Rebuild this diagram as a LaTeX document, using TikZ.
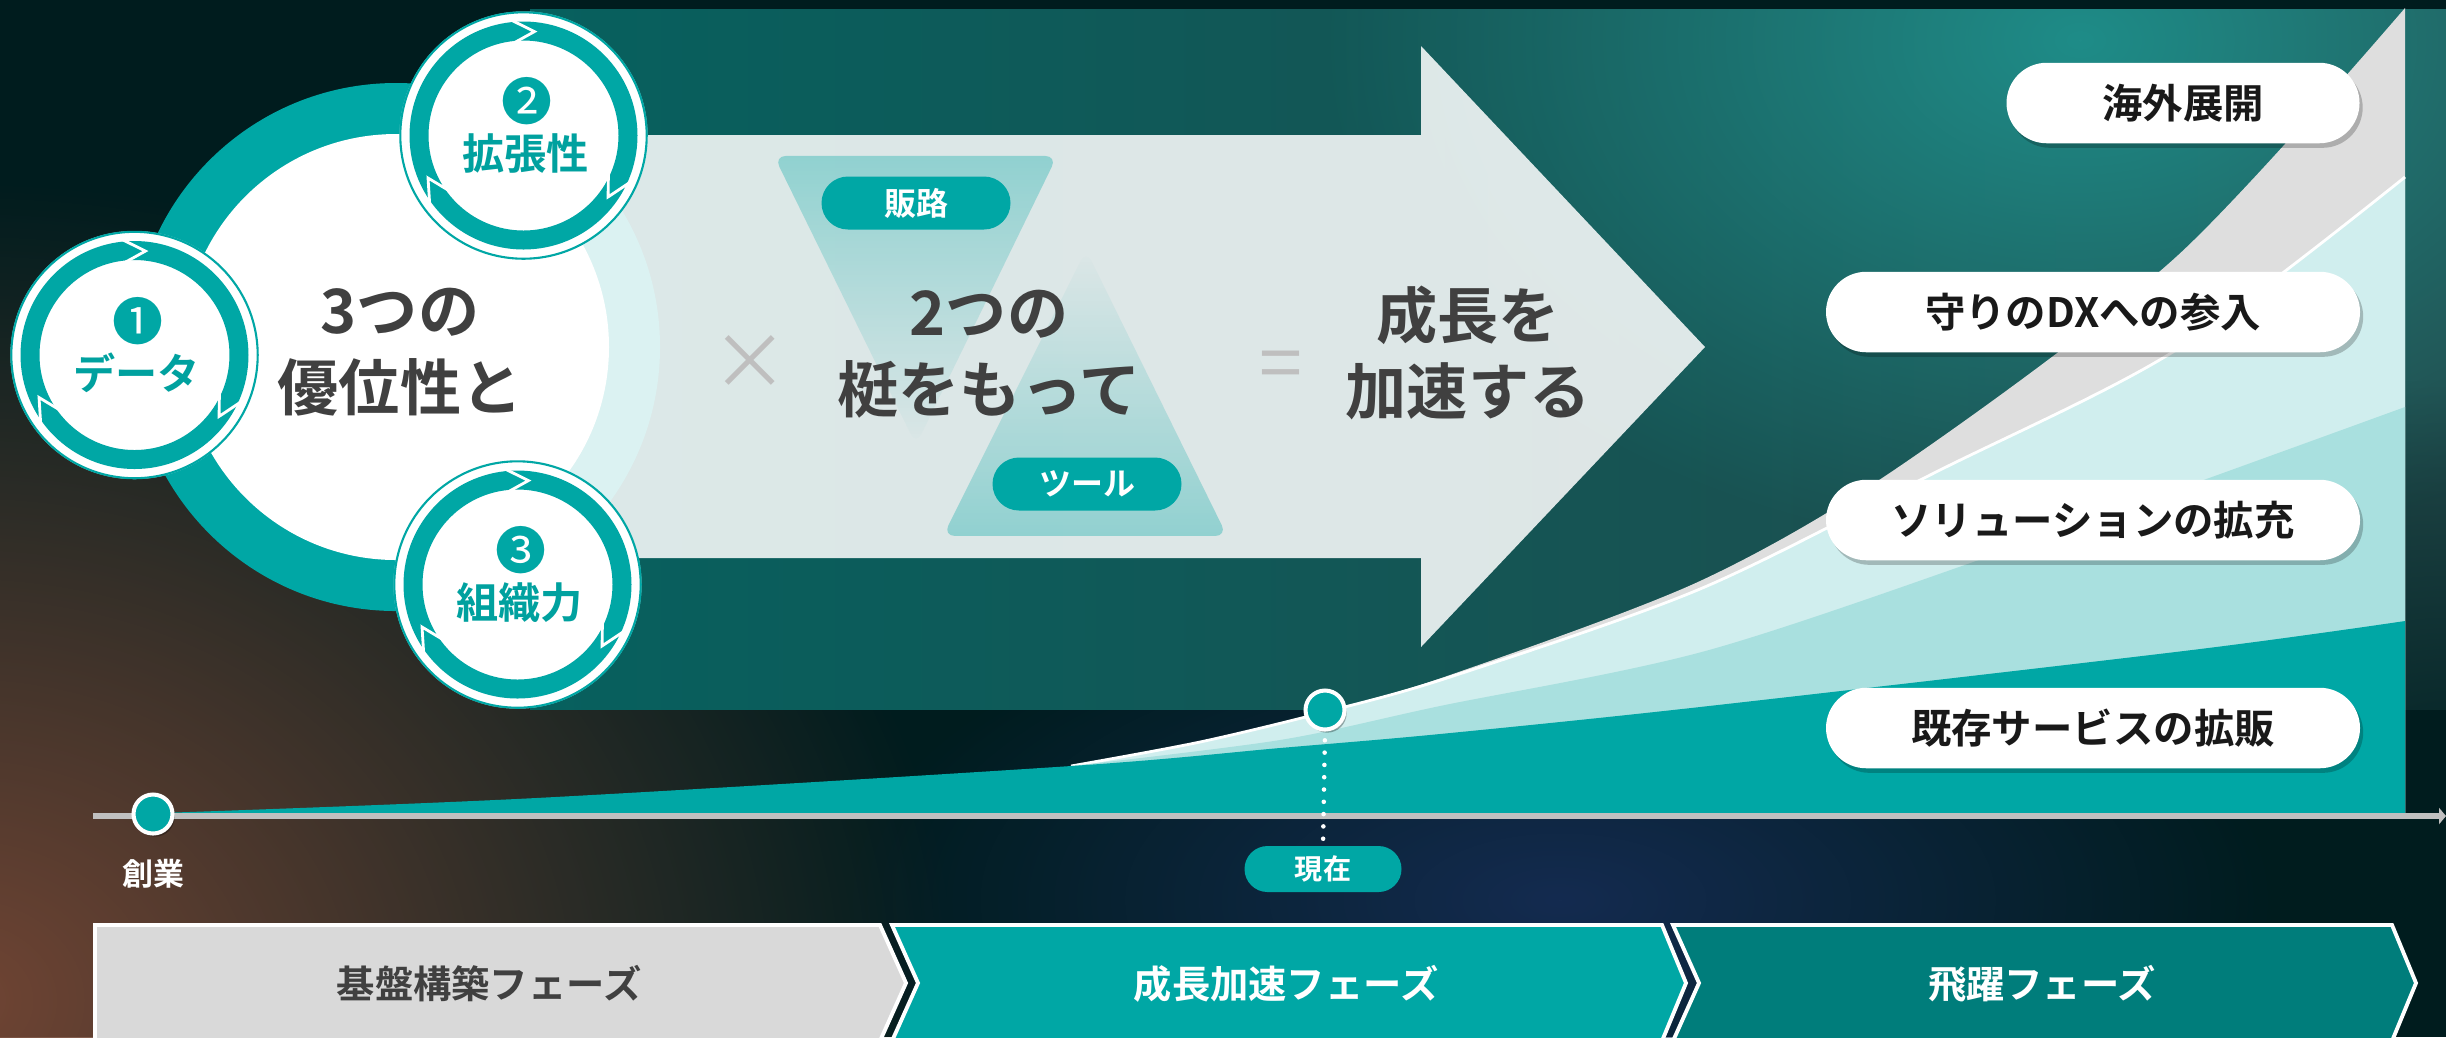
\documentclass[tikz,border=0pt]{standalone}
\usepackage{fontspec}
\setmainfont{Noto Sans CJK JP}[BoldFont={Noto Sans CJK JP Bold}]
\usetikzlibrary{fadings,shadows,shapes.misc,arrows.meta,calc}

\definecolor{bgdark}{HTML}{001C1E}
\definecolor{brownglow}{HTML}{714534}
\definecolor{navyglow}{HTML}{142B50}
\definecolor{panelL}{HTML}{07605E}
\definecolor{panelR}{HTML}{224A4B}
\definecolor{panelglow}{HTML}{1F8C88}
\definecolor{tealc}{HTML}{00A7A5}
\definecolor{teald}{HTML}{007D7B}
\definecolor{tealtxt}{HTML}{00A19F}
\definecolor{lcyan}{HTML}{A9E0DF}
\definecolor{pcyan}{HTML}{D0EEEE}
\definecolor{grayl}{HTML}{DEDEDE}
\definecolor{txtc}{HTML}{404040}
\definecolor{axisg}{HTML}{C0C0C0}
\definecolor{barg}{HTML}{D9D9D9}
\definecolor{opg}{HTML}{BFBFBF}

\tikzfading[name=radglow, inner color=transparent!0, outer color=transparent!100]
\tikzfading[name=fadetop, top color=transparent!0, bottom color=transparent!100]
\tikzfading[name=fadebot, top color=transparent!100, bottom color=transparent!0]

\tikzset{
  bigtxt/.style={text=txtc, align=center, font=\fontsize{17.4}{21.8}\selectfont\bfseries},
  opsign/.style={text=opg, font=\fontsize{22}{22}\selectfont},
  numc/.style={text=tealc, inner sep=0pt, font=\fontsize{14.5}{14.5}\selectfont},
  advlbl/.style={text=tealtxt, inner sep=0pt, font=\fontsize{12}{12}\selectfont\bfseries},
  levpill/.style={rounded rectangle, fill=tealc, text=white, inner sep=0pt,
     minimum width=18.9mm, minimum height=5.3mm, font=\fontsize{9.1}{9.1}\selectfont\bfseries},
  rightpill/.style={rounded rectangle, fill=white, text=black!90, inner sep=0pt,
     minimum height=8.05mm, font=\fontsize{11.5}{11.5}\selectfont\bfseries,
     drop shadow={shadow xshift=0.9pt, shadow yshift=-1.3pt, opacity=0.22, fill=black}},
  dotc/.style={circle, fill=tealc, draw=white, line width=1.15pt, minimum size=3.9mm, inner sep=0pt,
     drop shadow={shadow xshift=0.6pt, shadow yshift=-0.9pt, opacity=0.3, fill=black}},
  phasetxt/.style={inner sep=0pt, font=\fontsize{10.9}{10.9}\selectfont\bfseries},
  phasebar/.style={draw=white, line width=1.1pt, line join=miter},
}

\newcommand{\mkadv}[5]{%
  \coordinate (#1) at (#2,#3);
  \fill[white] (#1) circle (124);
  \draw[tealc, line width=0.6pt] (#1) circle (123.2);
  \fill[tealc, even odd rule] (#1) circle (114) (#1) circle (95);
  \foreach \a in {90,210,330}{
    \draw[white, line width=0.8pt, line join=miter]
      ($(#1)+({-(\a+6)}:116)$) -- ($(#1)+({-(\a-6)}:104.5)$) -- ($(#1)+({-(\a+6)}:93)$);
  }
  \node[numc] (#1n) at ($(#1)+(3,-34)$) {#4};
  \node[advlbl] (#1l) at ($(#1)+(2,18)$) {#5};
}

\begin{document}
\begin{tikzpicture}[x=0.1mm, y=-0.1mm]
\useasboundingbox (0,0) rectangle (2446,1037);
\begin{scope}
\clip (0,0) rectangle (2446,1037);
% background
\fill[bgdark] (0,0) rectangle (2446,1037);
\fill[brownglow, path fading=radglow] (-40,1000) ellipse (1000 and 820);
\fill[navyglow, path fading=radglow] (1560,900) ellipse (720 and 330);

% panel
\begin{scope}
  \clip (530,9) rectangle (2446,709);
  \fill[left color=panelL, right color=panelR] (530,9) rectangle (2446,709);
  \fill[panelglow, path fading=radglow] (2080,40) ellipse (760 and 520);
  \fill[bgdark, opacity=0.8, path fading=radglow] (2446,760) ellipse (520 and 380);
\end{scope}

% big circle ring + arrow
\coordinate (bigc) at (396,347);
\fill[tealc] (bigc) circle (264);
\fill[white, opacity=0.86] (396,135) -- (1421,135) -- (1421,46) -- (1705,347)
   -- (1421,647) -- (1421,558) -- (396,558) -- cycle;
\fill[white] (bigc) circle (213);

% hourglass
\fill[tealc, opacity=0.34, path fading=fadetop, rounded corners=1.2mm]
   (774,156) -- (1057,156) -- (916,445) -- cycle;
\fill[tealc, opacity=0.34, path fading=fadebot, rounded corners=1.2mm]
   (943,536) -- (1227,536) -- (1086,250) -- cycle;
\node[levpill] (hanro) at (916,203) {販路};
\node[levpill] (tool) at (1087,484) {ツール};

% texts in arrow
\node[bigtxt] (adv) at (400,352) {3つの\\優位性と};
\node[opsign] (times) at (750,362) {×};
\node[bigtxt] (lever) at (989,354) {2つの\\梃をもって};
\node[opsign] (equal) at (1281,371) {=};
\node[bigtxt] (grow) at (1468,353) {成長を\\加速する};

% small circles
\mkadv{c1}{134.5}{355}{❶}{データ}
\mkadv{c2}{523.5}{135.5}{❷}{拡張性}
\mkadv{c3}{517.5}{584.5}{❸}{組織力}

% chart layers
\fill[grayl] plot[smooth] coordinates {(1071,766) (1200,742) (1325,712) (1450,675) (1700,581) (1900,466) (2176,257) (2405,8)}
   -- (2405,813) -- (1071,813) -- cycle;
\fill[pcyan] plot[smooth] coordinates {(1071,766) (1200,742) (1325,712) (1450,677) (1700,589) (1938,471) (2176,350) (2405,177)}
   -- (2405,813) -- (1071,813) -- cycle;
\draw[white, line width=0.8pt] plot[smooth] coordinates {(1071,766) (1200,742) (1325,712) (1450,677) (1700,589) (1938,471) (2176,350) (2405,177)};
\fill[lcyan] plot[smooth] coordinates {(1071,766) (1280,740) (1440,706) (1709,650) (2033,541) (2405,407)}
   -- (2405,813) -- (1071,813) -- cycle;
\fill[tealc] plot[smooth] coordinates {(160,813) (536,798) (1071,766) (1280,748) (1440,734) (1700,707) (2192,650) (2405,621)}
   -- (2405,813) -- (160,813) -- cycle;

% right pills
\node[rightpill, minimum width=35.3mm] (p4) at (2183,103) {海外展開};
\node[rightpill, minimum width=53.4mm] (p3) at (2093,312) {守りのDXへの参入};
\node[rightpill, minimum width=53.4mm] (p2) at (2093,520) {ソリューションの拡充};
\node[rightpill, minimum width=53.4mm] (p1) at (2093,728) {既存サービスの拡販};

% axis
\coordinate (axs) at (93,816);
\coordinate (axe) at (2446,816);
\draw[axisg, line width=1.6pt, -{Triangle[length=2pt, width=4.6pt]}] (axs) -- (axe);

% milestones
\node[dotc] (start) at (153,814) {};
\node[text=white, inner sep=0pt, font=\fontsize{8.8}{8.8}\selectfont\bfseries] (found) at (153,874) {創業};
\node[dotc] (now) at (1325,710) {};
\node[levpill, minimum width=15.7mm, minimum height=4.6mm, font=\fontsize{8}{8}\selectfont\bfseries] (nowpill) at (1323,869) {現在};
\draw[white, line width=1.3pt, line cap=round, dash pattern=on 0pt off 3.5pt, shorten <=2.5pt] (now.south) -- (nowpill.north);

% phase bars
\fill[barg, phasebar] (95,925) -- (880,925) -- (906,983) -- (880,1041) -- (95,1041) -- cycle;
\fill[tealc, phasebar] (892,925) -- (1662,925) -- (1686,983) -- (1662,1041) -- (892,1041) -- (918,983) -- cycle;
\fill[teald, phasebar] (1673,925) -- (2392,925) -- (2416,983) -- (2392,1041) -- (1673,1041) -- (1699,983) -- cycle;
\node[phasetxt, text=txtc] (ph1) at (489,984) {基盤構築フェーズ};
\node[phasetxt, text=white] (ph2) at (1286,984) {成長加速フェーズ};
\node[phasetxt, text=white] (ph3) at (2042,984) {飛躍フェーズ};
\end{scope}
\end{tikzpicture}
\end{document}
